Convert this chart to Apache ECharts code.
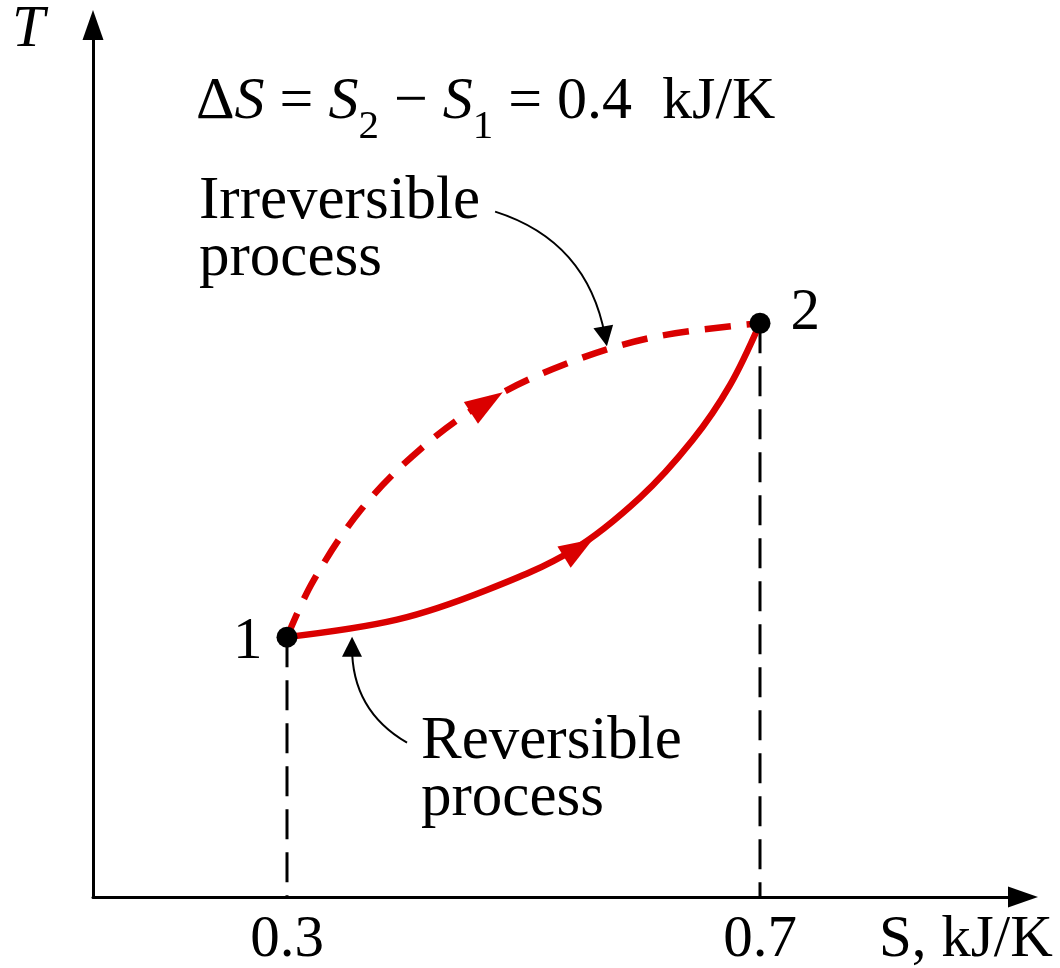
<!DOCTYPE html>
<html><head><meta charset="utf-8">
<script src="https://cdn.jsdelivr.net/npm/echarts@6/dist/echarts.min.js"></script>
<style>html,body{margin:0;padding:0;background:#fff}#c{width:1060px;height:968px}</style>
</head><body><div id="c"></div>
<script>
// ---- data ----
const xTicks = [0.3, 0.7];
const stateS = [0.3, 0.7];
const stateT = [29.8, 65.8];
const stateNames = ['1', '2'];
const reversible = [
  [0.300, 29.8], [0.393, 31.8], [0.469, 35.2], [0.542, 39.8],
  [0.5985, 45.8], [0.643, 52.4], [0.6746, 58.7], [0.700, 65.8]
];
const irreversible = [
  [0.300, 29.8], [0.322, 36.2], [0.363, 44.5], [0.414, 51.5],
  [0.467, 56.7], [0.535, 61.1], [0.610, 64.2], [0.700, 65.8]
];
const revArrowAt = [0.5465, 40.0];
const irrArrowAt = [0.469, 56.7];
const calloutIrr = [[0.476, 78.6], [0.569, 64.3]];
const calloutRev = [[0.4015, 17.7], [0.355, 28.7]];

// ---- styles ----
const FONT = 'Liberation Serif, Times New Roman, serif';
const RED = '#da0000';
const FS = 59;
const FL = 61;

const chart = echarts.init(document.getElementById('c'), null, {renderer: 'canvas'});

const dropSeries = stateS.map((s, i) => ({
  type: 'line',
  data: [[s, stateT[i]], [s, 0]],
  symbol: 'none',
  lineStyle: {color: '#000', width: 3, type: [30, 13]},
  z: 1, silent: true
}));

const labelCfg = [
  {position: 'left', distance: 14, offset: [0, 5]},
  {position: 'right', distance: 20, offset: [0, -10]}
];

const option = {
  animation: false,
  backgroundColor: '#fff',
  grid: {left: 93, right: 37, top: 25, bottom: 71, outerBoundsMode: 'none', containLabel: false},
  xAxis: {
    type: 'value', min: 0.13594, max: 0.92241,
    axisLine: {show: true, onZero: false, symbol: ['none', 'triangle'], symbolSize: [21, 30],
      lineStyle: {color: '#000', width: 3}},
    axisTick: {show: false}, splitLine: {show: false},
    axisLabel: {customValues: xTicks, formatter: v => v.toFixed(1), fontFamily: FONT,
      fontSize: FS, lineHeight: 58, color: '#000', margin: 14}
  },
  yAxis: {
    type: 'value', min: 0, max: 100,
    axisLine: {show: true, onZero: false, symbol: ['none', 'triangle'], symbolSize: [21, 30],
      lineStyle: {color: '#000', width: 3}},
    axisTick: {show: false}, splitLine: {show: false}, axisLabel: {show: false}
  },
  series: [
    ...dropSeries,
    {
      type: 'line', data: reversible, smooth: 0.35, symbol: 'none',
      lineStyle: {color: RED, width: 6.5}, z: 3
    },
    {
      type: 'line', data: irreversible, smooth: 0.35, symbol: 'none',
      lineStyle: {color: RED, width: 6.5, type: [26, 16], cap: 'butt'}, z: 3
    },
    {
      type: 'scatter', data: [revArrowAt], symbol: 'triangle', symbolSize: [25, 34],
      symbolRotate: -58, itemStyle: {color: RED, opacity: 1}, z: 4
    },
    {
      type: 'scatter', data: [irrArrowAt], symbol: 'triangle', symbolSize: [26, 38],
      symbolRotate: -57, itemStyle: {color: RED, opacity: 1}, z: 4
    },
    {
      type: 'lines', coordinateSystem: 'cartesian2d',
      symbol: ['none', 'triangle'], symbolSize: [14, 20],
      data: [
        {coords: calloutIrr, lineStyle: {curveness: 0.3}},
        {coords: calloutRev, lineStyle: {curveness: 0.29}}
      ],
      lineStyle: {color: '#000', width: 2, opacity: 1},
      itemStyle: {color: '#000'},
      z: 4
    },
    {
      type: 'scatter', symbol: 'circle', symbolSize: 21,
      itemStyle: {color: '#000', opacity: 1},
      data: stateS.map((s, i) => ({
        value: [s, stateT[i]], name: stateNames[i],
        label: Object.assign({show: true, formatter: stateNames[i], fontFamily: FONT,
          fontSize: FS, color: '#000'}, labelCfg[i])
      })),
      z: 5
    }
  ],
  graphic: [
    {type: 'text', x: 12, y: 30, style: {text: 'T', font: 'italic ' + FS + 'px ' + FONT,
      fill: '#000', verticalAlign: 'middle', align: 'left'}},
    {type: 'text', x: 196, y: 73, style: {
      text: '{d|Δ}{i|S}{n| = }{i|S}{s|2}{n| − }{i|S}{s|1}{n| = 0.4  kJ/K}',
      verticalAlign: 'top', align: 'left', fill: '#000',
      rich: {
        d: {fontFamily: FONT, fontSize: 60, lineHeight: 58, verticalAlign: 'middle', fill: '#000'},
        n: {fontFamily: FONT, fontSize: 60, lineHeight: 58, verticalAlign: 'middle', fill: '#000'},
        i: {fontFamily: FONT, fontSize: 60, fontStyle: 'italic', lineHeight: 58, verticalAlign: 'middle', fill: '#000'},
        s: {fontFamily: FONT, fontSize: 41, lineHeight: 40, padding: [51, 0, 0, 0], verticalAlign: 'middle', fill: '#000'}
      }
    }},
    {type: 'text', x: 199, y: 173, style: {text: 'Irreversible\nprocess', font: FL + 'px ' + FONT,
      lineHeight: 57, fill: '#000', verticalAlign: 'top', align: 'left'}},
    {type: 'text', x: 421, y: 713, style: {text: 'Reversible\nprocess', font: FL + 'px ' + FONT,
      lineHeight: 57, fill: '#000', verticalAlign: 'top', align: 'left'}},
    {type: 'text', x: 879, y: 911, style: {text: 'S, kJ/K', font: FS + 'px ' + FONT,
      lineHeight: 58, fill: '#000', verticalAlign: 'top', align: 'left'}}
  ]
};
chart.setOption(option);
</script>
</body></html>
